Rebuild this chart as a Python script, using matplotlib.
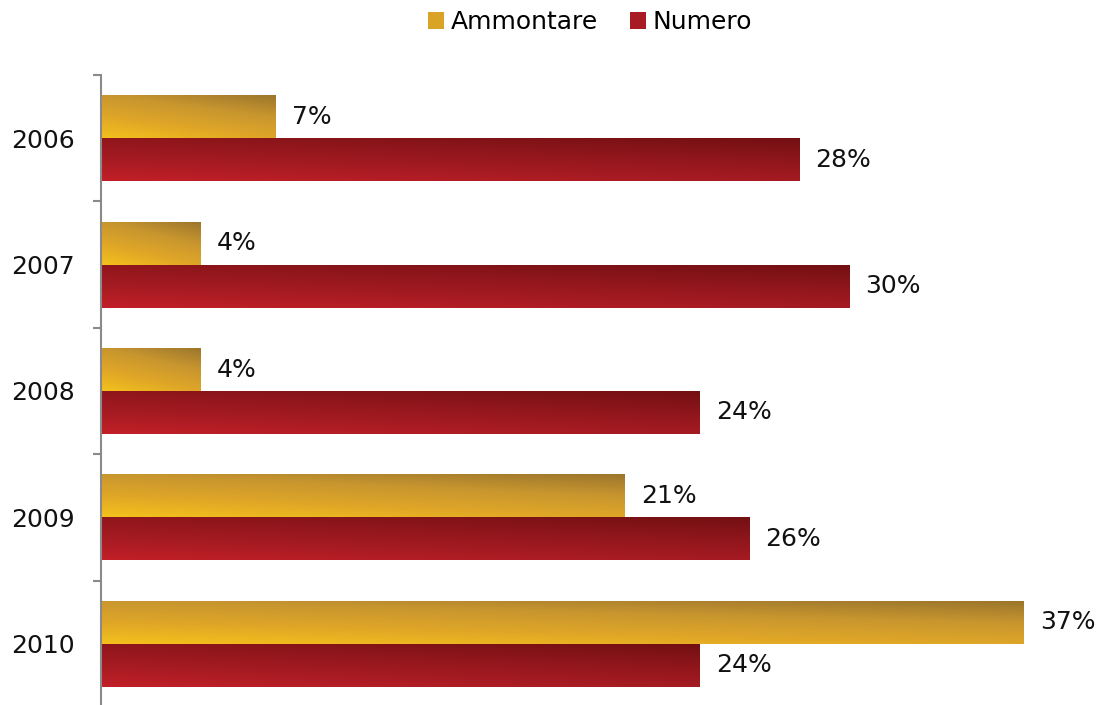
import numpy as np
import matplotlib
matplotlib.use("Agg")
import matplotlib.pyplot as plt
from matplotlib.colors import LinearSegmentedColormap
from matplotlib.patches import Patch

plt.rcParams["font.family"] = ["DejaVu Sans"]

years = ["2006", "2007", "2008", "2009", "2010"]
ammontare = [7, 4, 4, 21, 37]
numero = [28, 30, 24, 26, 24]

gold = LinearSegmentedColormap.from_list("gold", ["#f3c11c", "#dfa627", "#c8962f", "#9c762c"])
red = LinearSegmentedColormap.from_list("red", ["#c21f27", "#a61b22", "#8e161b", "#731013"])

fs = 18

fig = plt.figure(figsize=(11.02, 7.05), dpi=100)
ax = fig.add_axes([101 / 1102, -2 / 705, 1000 / 1102, 632 / 705])

ax.set_xlim(0, 40.1)
ax.set_ylim(len(years) - 0.5, -0.5)
ax.set_autoscale_on(False)

# diagonal shading: light at bottom-left, dark at top-right
u = np.linspace(0, 1, 200)[None, :]
v = np.linspace(1, 0, 50)[:, None]
shade = 0.65 * v + 0.35 * u

h = 0.34
ypos = np.arange(len(years))


def shaded_bars(vals, offset, cmap):
    bars = ax.barh(ypos + offset, vals, height=h, color="none", edgecolor="none")
    for b in bars:
        x0, y0 = b.get_x(), b.get_y()
        im = ax.imshow(shade, cmap=cmap, vmin=0, vmax=1, origin="lower", aspect="auto",
                       extent=[x0, x0 + b.get_width(), y0, y0 + b.get_height()],
                       interpolation="bilinear")
        im.set_clip_path(b)
    return bars


shaded_bars(ammontare, -h / 2, gold)
shaded_bars(numero, h / 2, red)

for i in range(len(years)):
    ax.text(ammontare[i] + 0.65, ypos[i] - h / 2, f"{ammontare[i]}%", va="center", ha="left",
            fontsize=fs, color="#111111")
    ax.text(numero[i] + 0.65, ypos[i] + h / 2, f"{numero[i]}%", va="center", ha="left",
            fontsize=fs, color="#111111")

for s in ["top", "right", "bottom"]:
    ax.spines[s].set_visible(False)
ax.spines["left"].set_color("#8a8a8a")
ax.spines["left"].set_linewidth(1.5)

ax.set_xticks([])
ax.set_yticks(ypos)
ax.set_yticklabels(years, fontsize=fs, color="#111111")
ax.tick_params(axis="y", which="major", length=0, pad=19)
# boundary ticks between categories (none at the bottom end)
ax.set_yticks(np.arange(-0.5, len(years) - 1, 1), minor=True)
ax.tick_params(axis="y", which="minor", length=6, width=1.5, color="#8a8a8a")

handles = [Patch(facecolor="#d9a326", label="Ammontare"),
           Patch(facecolor="#a81b22", label="Numero")]
fig.legend(handles=handles, loc="center", bbox_to_anchor=(590 / 1102, 1 - 22 / 705), ncol=2,
           frameon=False, fontsize=fs, handlelength=0.65, handleheight=0.65,
           handletextpad=0.25, columnspacing=1.3)

fig.savefig("out.png", dpi=100)
